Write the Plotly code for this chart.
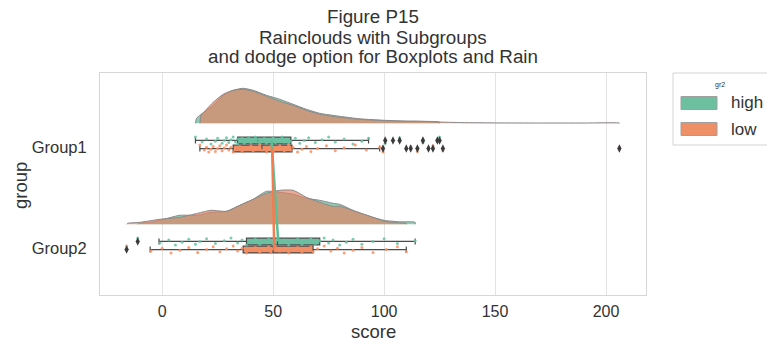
import plotly.graph_objects as go
import numpy as np

# ---- data ----
groups = ["Group1", "Group2"]
subgroups = ["high", "low"]

# rain (scores)
g1_high = [15, 18, 20, 22, 24, 25, 27, 28, 29, 30, 31, 32, 33, 34, 34, 35, 36, 37, 38, 39,
           40, 41, 42, 43, 43, 44, 45, 46, 47, 48, 50, 51, 52, 54, 55, 56, 57, 58, 60, 62,
           64, 66, 69, 72, 75, 78, 82, 86, 90, 93, 100.5, 104, 107, 117.5, 124, 125]
g1_low = [17, 19, 20, 21, 22, 23, 24, 25, 26, 27, 28, 29, 30, 31, 32, 33, 35, 36, 38, 40,
          41, 42, 44, 45, 46, 47, 48, 49, 50, 52, 53, 55, 56, 57, 58, 59, 61, 63, 65, 67,
          70, 74, 78, 82, 87, 92, 98, 99.5, 110, 112, 115, 120, 122, 126.5, 206]
g2_high = [-11, -1, 3, 6, 9, 12, 15, 17, 20, 24, 28, 31, 34, 36, 38, 40, 42, 44, 46, 48,
           50, 51, 52, 53, 55, 57, 59, 61, 63, 65, 67, 69, 71, 73, 75, 77, 80, 83, 86, 90,
           95, 100, 106, 114]
g2_low = [-16, -5, 0, 4, 8, 12, 16, 20, 23, 26, 29, 32, 34, 36, 38, 40, 42, 44, 46, 48,
          49, 50, 51, 53, 55, 57, 59, 61, 63, 65, 67, 68, 70, 73, 76, 79, 82, 86, 90, 95,
          101, 106, 110]

# box statistics: q1, median, q3, lower whisker, upper whisker
box_high = {"Group1": [34, 43, 58, 15, 93], "Group2": [38, 52, 71, -1.4, 114]}
box_low = {"Group1": [32, 45, 58.5, 17, 98], "Group2": [36.5, 50, 68, -5.4, 110]}

# outliers
out_high = {"Group1": [100.5, 104, 107, 117.5, 124, 125], "Group2": [-11]}
out_low = {"Group1": [99.5, 110, 112, 115, 120, 122, 126.5, 206], "Group2": [-16]}

# means (connected across groups)
mean_high = [49.3, 52.3]
mean_low = [49.6, 50.5]

# cloud profiles (score, density height)
cloud_g1_high_x = [15, 15.5, 17, 20, 23, 27.5, 32, 36.5, 41, 47, 53, 59, 65, 71, 80, 89, 100, 110, 117, 125]
cloud_g1_high_h = [0, 5, 8, 13, 18, 28, 33, 35, 33, 28, 24, 19, 14, 10, 7, 4.5, 3, 2.2, 2, 1.2]
cloud_g1_low_x = [17, 17.5, 20, 23, 27.5, 32, 36.5, 41, 47, 53, 59, 65, 71, 80, 89, 100, 110, 115, 120, 126, 135, 150, 170, 190, 206]
cloud_g1_low_h = [0, 8, 14, 21, 29, 33, 34, 32, 27, 22, 18, 13, 9, 6, 4, 2.7, 2, 2, 1.7, 1.2, 0.7, 0.4, 0.3, 0.3, 0.3]
cloud_g2_high_x = [-11, -10.5, -5, -1, 8, 16, 22, 29, 35, 41, 47, 53, 59, 65, 71, 77, 80, 87, 95, 100, 107, 114]
cloud_g2_high_h = [0, 1, 2, 4, 9, 9, 12, 13, 19, 25, 33, 32, 30, 26, 24, 21, 20, 13, 7, 4, 2.5, 2]
cloud_g2_low_x = [-16, -15.5, -10, -1, 8, 16, 22, 29, 35, 41, 47, 53, 59, 65, 71, 77, 80, 87, 95, 100, 107, 110]
cloud_g2_low_h = [0, 1, 2, 5, 7, 11, 14, 13, 19, 25, 31, 34, 34, 27, 22, 18, 18, 13, 7, 3, 1.5, 1]

# ---- styling ----
GREEN = "#6cbf9f"
ORANGE = "#ef8f66"
GREEN_PT = "#66c2a5"
ORANGE_PT = "#fc8d62"
TXT = "#333333"
FONT = "Liberation Sans"

W, H = 767, 343
ML, MR, MT, MB = 100, 121, 73, 48
PW, PH = W - ML - MR, H - MT - MB


def px2x(px):
    return (px - ML) / PW


def px2y(py):
    return (H - MB - py) / PH


ypos = {"Group1": 0, "Group2": 1}
dodge = {"high": -0.065, "low": 0.015}
cloud_base = -0.235
cloud_scale = 1 / 101.0

fig = go.Figure()


def add_cloud(xs, hs, base, fill):
    xs = list(xs) + [xs[-1]]
    ys = [base - h * cloud_scale for h in hs] + [base]
    fig.add_trace(go.Scatter(x=xs, y=ys, mode="lines", fill="toself", fillcolor=fill,
                             line=dict(color="#8a8a8a", width=1, shape="spline", smoothing=0.6),
                             showlegend=False, hoverinfo="skip"))


add_cloud(cloud_g1_high_x, cloud_g1_high_h, ypos["Group1"] + cloud_base, "rgba(95,185,150,0.70)")
add_cloud(cloud_g1_low_x, cloud_g1_low_h, ypos["Group1"] + cloud_base, "rgba(225,130,100,0.68)")
add_cloud(cloud_g2_high_x, cloud_g2_high_h, ypos["Group2"] + cloud_base, "rgba(95,185,150,0.70)")
add_cloud(cloud_g2_low_x, cloud_g2_low_h, ypos["Group2"] + cloud_base, "rgba(225,130,100,0.68)")

# boxes
for sub, stats, col in [("high", box_high, GREEN), ("low", box_low, ORANGE)]:
    for g in groups:
        q1, med, q3, lo, hi = stats[g]
        fig.add_trace(go.Box(y=[ypos[g] + dodge[sub]], q1=[q1], median=[med], q3=[q3],
                             lowerfence=[lo], upperfence=[hi], orientation="h",
                             fillcolor=col, line=dict(color="#4a4a4a", width=1.2),
                             width=0.066, whiskerwidth=0.9, boxpoints=False,
                             showlegend=False, hoverinfo="skip"))


# rain
def jitter(n, amp):
    return np.array([((i * 7) % 11 - 5) / 5.0 * amp for i in range(n)])


for vals, g, sub, col in [(g1_high, "Group1", "high", GREEN_PT), (g1_low, "Group1", "low", ORANGE_PT),
                          (g2_high, "Group2", "high", GREEN_PT), (g2_low, "Group2", "low", ORANGE_PT)]:
    yy = ypos[g] + dodge[sub] + jitter(len(vals), 0.035)
    fig.add_trace(go.Scatter(x=vals, y=yy, mode="markers",
                             marker=dict(color=col, size=3, opacity=0.85),
                             showlegend=False, hoverinfo="skip"))

# outliers
for outs, sub in [(out_high, "high"), (out_low, "low")]:
    for g in groups:
        fig.add_trace(go.Scatter(x=outs[g], y=[ypos[g] + dodge[sub]] * len(outs[g]), mode="markers",
                                 marker=dict(symbol="diamond-tall", size=6, color="#3a3a3a"),
                                 showlegend=False, hoverinfo="skip"))

# mean lines
fig.add_trace(go.Scatter(x=mean_high, y=[ypos[g] + dodge["high"] for g in groups], mode="lines",
                         line=dict(color="#5dbd95", width=2.5), showlegend=False, hoverinfo="skip"))
fig.add_trace(go.Scatter(x=mean_low, y=[ypos[g] + dodge["low"] for g in groups], mode="lines",
                         line=dict(color="#f47c50", width=2.5), showlegend=False, hoverinfo="skip"))

# ---- hand-made legend (wide swatches like the reference) ----
shapes = [dict(type="rect", xref="paper", yref="paper", x0=px2x(673), x1=px2x(780),
               y0=px2y(145), y1=px2y(73), line=dict(color="#d4d4d4", width=1), fillcolor="white",
               layer="below")]
annos = [dict(text="gr2", x=px2x(720), y=px2y(85), xref="paper", yref="paper", showarrow=False,
              font=dict(size=7, color=TXT), xanchor="center", yanchor="middle")]
for name, col, cy in zip(subgroups, [GREEN, ORANGE], [103, 129]):
    shapes.append(dict(type="rect", xref="paper", yref="paper", x0=px2x(681), x1=px2x(717),
                       y0=px2y(cy + 6.5), y1=px2y(cy - 6.5), line=dict(color="#a0a0a0", width=1),
                       fillcolor=col))
    annos.append(dict(text=name, x=px2x(729), y=px2y(cy), xref="paper", yref="paper",
                      showarrow=False, font=dict(size=17, color=TXT), xanchor="left", yanchor="middle"))

# title lines and axis titles
for line, cy in zip(["Figure P15", "Rainclouds with Subgroups", "and dodge option for Boxplots and Rain"],
                    [17, 37, 56.5]):
    annos.append(dict(text=line, x=0.5, y=px2y(cy), xref="paper", yref="paper", showarrow=False,
                      font=dict(size=18.8, color=TXT), xanchor="center", yanchor="middle"))
annos.append(dict(text="score", x=0.5, y=px2y(331), xref="paper", yref="paper", showarrow=False,
                  font=dict(size=18.5, color=TXT), xanchor="center", yanchor="middle"))
annos.append(dict(text="group", x=px2x(20), y=px2y(186), xref="paper", yref="paper", showarrow=False,
                  textangle=-90, font=dict(size=18.5, color=TXT), xanchor="center", yanchor="middle"))

fig.update_layout(
    width=W, height=H,
    margin=dict(l=ML, r=MR, t=MT, b=MB),
    paper_bgcolor="white", plot_bgcolor="white",
    font=dict(family=FONT, color=TXT),
    showlegend=False,
    shapes=shapes,
    annotations=annos,
)
fig.update_xaxes(range=[-28, 218], tickvals=[0, 50, 100, 150, 200], showgrid=True,
                 gridcolor="#e3e3e3", zeroline=False, showline=True, linecolor="#d6d6d6",
                 mirror=True, ticks="", tickfont=dict(size=16, color=TXT), automargin=False,
                 ticklabelstandoff=2)
fig.update_yaxes(range=[1.465, -0.733], tickvals=[0, 1], ticktext=groups, showgrid=False,
                 zeroline=False, showline=True, linecolor="#d6d6d6", mirror=True, ticks="",
                 tickfont=dict(size=16.5, color=TXT), automargin=False, ticklabelstandoff=9)

# drop the page's default body margin so the figure sits at the window's top-left
fig.write_html("out.html", config={"displayModeBar": False},
               post_script="document.body.style.margin='0';")
